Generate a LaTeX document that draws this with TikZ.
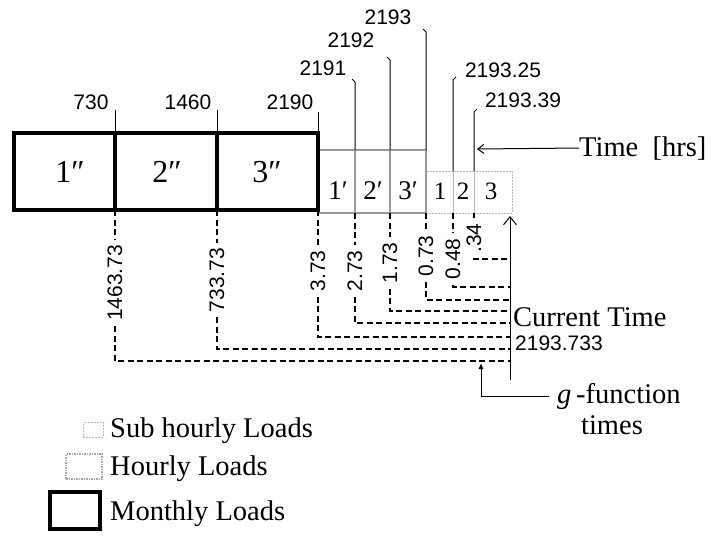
\documentclass[tikz,border=0pt]{standalone}
\usepackage{fontspec}
\setmainfont{Liberation Serif}
\newfontfamily\numfont{Liberation Sans}
\usetikzlibrary{arrows.meta}
\begin{document}
\begin{tikzpicture}[x=1pt,y=-1pt,
 monthly/.style={draw=black,line width=4pt,outer sep=0pt,inner sep=0pt},
 hourly/.style={draw=black!40,line width=1.6pt,outer sep=0pt,inner sep=0pt},
 subhourly/.style={draw=black!28,line width=1pt,dash pattern=on 2pt off 1pt,outer sep=0pt,inner sep=0pt},
 hourlylegend/.style={draw=black!35,line width=1.5pt,dash pattern=on 1.5pt off 1pt,outer sep=0pt,inner sep=0pt},
 num/.style={font=\numfont\fontsize{21}{24}\selectfont,inner sep=1pt},
 numrot/.style={num,rotate=90,inner xsep=5pt,inner ysep=0pt},
 word/.style={font=\fontsize{28.5}{31}\selectfont,inner sep=0pt},
 boxlabel/.style={font=\fontsize{32}{34}\selectfont,inner sep=0pt},
 hourlabel/.style={font=\fontsize{27}{30}\selectfont,inner sep=0pt},
 sublabel/.style={font=\fontsize{25}{28}\selectfont,inner sep=0pt},
 tick/.style={line width=1pt},
 conn/.style={line width=1.3pt,dash pattern=on 6pt off 3.5pt},
]
\useasboundingbox (0,0) rectangle (713,536);

% sub-hourly boxes
\node[subhourly,minimum width=27pt,minimum height=42pt] (s1) at (439.5,192) {};
\node[subhourly,minimum width=21pt,minimum height=42pt] (s2) at (463.5,192) {};
\node[subhourly,minimum width=38pt,minimum height=42pt] (s3) at (493,192) {};
% hourly boxes
\node[hourly,minimum width=37pt,minimum height=63pt] (h1) at (336.5,181.5) {};
\node[hourly,minimum width=35pt,minimum height=63pt] (h2) at (372.5,181.5) {};
\node[hourly,minimum width=36pt,minimum height=63pt] (h3) at (408,181.5) {};
% monthly boxes
\node[monthly,minimum width=101pt,minimum height=77pt] (m1) at (64.5,171.5) {};
\node[monthly,minimum width=102pt,minimum height=77pt] (m2) at (166,171.5) {};
\node[monthly,minimum width=101pt,minimum height=77pt] (m3) at (267.5,171.5) {};

% box labels
\node[boxlabel] (lm1) at (70,172) {1\char"2033};
\node[boxlabel] (lm2) at (167,172) {2\char"2033};
\node[boxlabel] (lm3) at (267,172) {3\char"2033};
\node[hourlabel] (lh1) at (338,191) {1\char"2032};
\node[hourlabel] (lh2) at (373,191) {2\char"2032};
\node[hourlabel] (lh3) at (408,191) {3\char"2032};
\node[sublabel] (ls1) at (440,191) {1};
\node[sublabel] (ls2) at (463,191) {2};
\node[sublabel] (ls3) at (491,191) {3};

% top time labels
\node[num] (t730) at (91,102) {730};
\node[num] (t1460) at (188,102) {1460};
\node[num] (t2190) at (290,102) {2190};
\node[num] (t2191) at (323,68) {2191};
\node[num] (t2192) at (351,40) {2192};
\node[num] (t2193) at (388,17) {2193};
\node[num] (t219325) at (503,70) {2193.25};
\node[num] (t219339) at (523,100) {2193.39};

\draw[tick] (m1.north east) -- ++(0,-23);
\draw[tick] (m2.north east) -- ++(0,-23);
\draw[tick] (m3.north east) -- ++(0,-21);
\draw[tick] (h1.north east) -- ++(0,-68) -- ++(-3,-3);
\draw[tick] (h2.north east) -- ++(0,-90) -- ++(-3,-3);
\draw[tick] (h3.north east) -- ++(0,-118) -- ++(-3,-3);
\draw[tick] (s1.north east) -- ++(0,-91) -- ++(3,-3);
\draw[tick] (s2.north east) -- ++(0,-59) -- ++(3,-3);

% time arrow
\node[word,anchor=base west] (time) at (579,156) {Time\ \ [hrs]};
\coordinate (ta) at (477,149);
\draw[tick,-{Straight Barb[length=6pt,width=9pt]}] (time.west) -- (ta);

% current time line
\coordinate (ctb) at (510,380);
\coordinate (ctt) at (510,216);
\draw[tick,-{Straight Barb[length=8pt,width=13pt]}] (ctb) -- (ctt);
\node[word,anchor=base west] (ct) at (513,326) {Current Time};
\node[num,anchor=base west] (ctv) at (514,350) {2193.733};

% elapsed-time labels and dashed connectors
\node[numrot] (b1) at (115,283) {1463.73};
\node[numrot] (b2) at (217,280) {733.73};
\node[numrot] (b3) at (318,271) {3.73};
\node[numrot] (b4) at (355,271) {2.73};
\node[numrot] (b5) at (390,263) {1.73};
\node[numrot] (b6) at (426,256) {0.73};
\node[numrot] (b7) at (453,259) {0.48};
\node[numrot] (b8) at (474,238) {.34};
\coordinate (g1) at (510,361);
\coordinate (g2) at (510,349);
\coordinate (g3) at (510,337);
\coordinate (g4) at (510,323);
\coordinate (g5) at (510,311);
\coordinate (g6) at (510,300);
\coordinate (g7) at (510,287);
\coordinate (g8) at (510,259);
\draw[conn] (m1.south east) -- (b1.east);
\draw[conn] (b1.west) |- (g1);
\draw[conn] (m2.south east) -- (b2.east);
\draw[conn] (b2.west) |- (g2);
\draw[conn] (m3.south east) -- (b3.east);
\draw[conn] (b3.west) |- (g3);
\draw[conn] (h1.south east) -- (b4.east);
\draw[conn] (b4.west) |- (g4);
\draw[conn] (h2.south east) -- (b5.east);
\draw[conn] (b5.west) |- (g5);
\draw[conn] (h3.south east) -- (b6.east);
\draw[conn] (b6.west) |- (g6);
\draw[conn] (s1.south east) -- (b7.east);
\draw[conn] (b7.west) |- (g7);
\draw[conn] (s2.south east) -- (b8.east);
\draw[conn] (b8.west) |- (g8);

% g-function times
\node[word,anchor=base west] (gf) at (557,403) {\textit{g}\,-function};
\node[word] (gt) at (612,425) {times};
\coordinate (gtip) at (481,363);
\draw[tick,-{Latex[length=6pt,width=5pt]}] ([xshift=-8pt]gf.west) -| (gtip);

% legend
\node[subhourly,minimum width=20pt,minimum height=15pt] (lgs) at (93,429.5) {};
\node[hourlylegend,minimum width=36pt,minimum height=25pt] (lgh) at (84,466.5) {};
\node[monthly,minimum width=50pt,minimum height=37pt] (lgm) at (75,510.5) {};
\node[word,anchor=base west] (lts) at (110,437) {Sub hourly Loads};
\node[word,anchor=base west] (lth) at (110,475) {Hourly Loads};
\node[word,anchor=base west] (ltm) at (110,520) {Monthly Loads};
\end{tikzpicture}
\end{document}
